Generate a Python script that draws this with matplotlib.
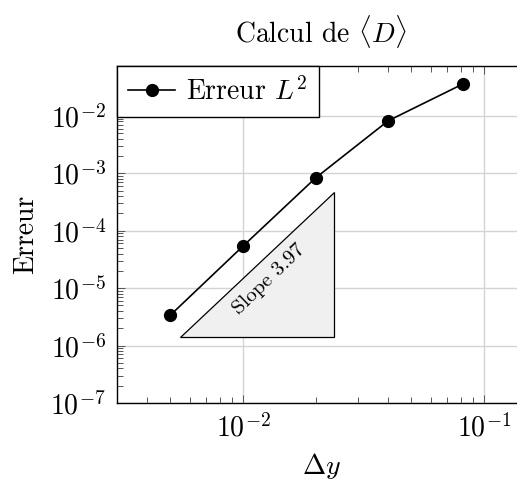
import numpy as np
import matplotlib
matplotlib.use('Agg')
import matplotlib.pyplot as plt
from matplotlib.ticker import LogLocator, NullFormatter

plt.rcParams['font.family'] = 'serif'
plt.rcParams['font.serif'] = ['cmr10']
plt.rcParams['mathtext.fontset'] = 'cm'
plt.rcParams['axes.formatter.use_mathtext'] = True

# Data
dy = [0.005, 0.01, 0.02, 0.04, 0.0818]
err_l2 = [3.4e-6, 5.4e-5, 8.3e-4, 8.2e-3, 3.6e-2]

# Slope triangle
slope = 3.97
tri_x = [0.0055, 0.0239]
tri_y0 = 1.41e-6

fig = plt.figure(figsize=(5.17, 4.8), dpi=100)
ax = fig.add_axes([117/517, 1 - 403/480, 408/517, 337/480])

ax.plot(dy, err_l2, color='black', lw=1.2, marker='o', markersize=8.5,
        label=r'Erreur $L^2$', zorder=3)

# triangle showing the slope
tri_y1 = tri_y0 * (tri_x[1] / tri_x[0]) ** slope
ax.fill([tri_x[0], tri_x[1], tri_x[1]], [tri_y0, tri_y0, tri_y1],
        facecolor='#f0f0f0', edgecolor='black', lw=0.9, zorder=2)
xm = np.sqrt(tri_x[0] * tri_x[1]) * 1.12
ym = np.sqrt(tri_y0 * tri_y1) * 0.55
ax.text(xm, ym, 'Slope %.2f' % slope, rotation=44, fontsize=15,
        ha='center', va='center', rotation_mode='anchor', zorder=4)

ax.set_xscale('log')
ax.set_yscale('log')
ax.set_xlim(0.0030, 0.148)
ax.set_ylim(1e-7, 0.074)
ax.yaxis.set_major_locator(LogLocator(base=10, numticks=20))
ax.yaxis.set_minor_locator(LogLocator(base=10, subs=np.arange(2, 10), numticks=20))
ax.yaxis.set_minor_formatter(NullFormatter())
ax.xaxis.set_minor_formatter(NullFormatter())

ax.grid(True, which='major', color='#d4d4d4', lw=1.0)
ax.set_axisbelow(True)
ax.tick_params(which='both', direction='in', top=True, right=True,
               labelsize=20, color='#555555', width=0.7)
ax.tick_params(which='major', length=6, pad=8)
ax.tick_params(which='minor', length=4)
for s in ax.spines.values():
    s.set_linewidth(1.0)

ax.set_xlabel(r'$\Delta y$', fontsize=20, labelpad=6)
ax.set_ylabel('Erreur', fontsize=20, labelpad=8)
ax.set_title(r'Calcul de $\langle D\rangle$', fontsize=20, pad=17)

leg = ax.legend(loc='upper left', fontsize=20, fancybox=False, framealpha=1,
                edgecolor='black', borderaxespad=0, handlelength=1.7,
                borderpad=0.4, handletextpad=0.4)
leg.get_frame().set_linewidth(1.0)

fig.savefig('out.png', dpi=100)
